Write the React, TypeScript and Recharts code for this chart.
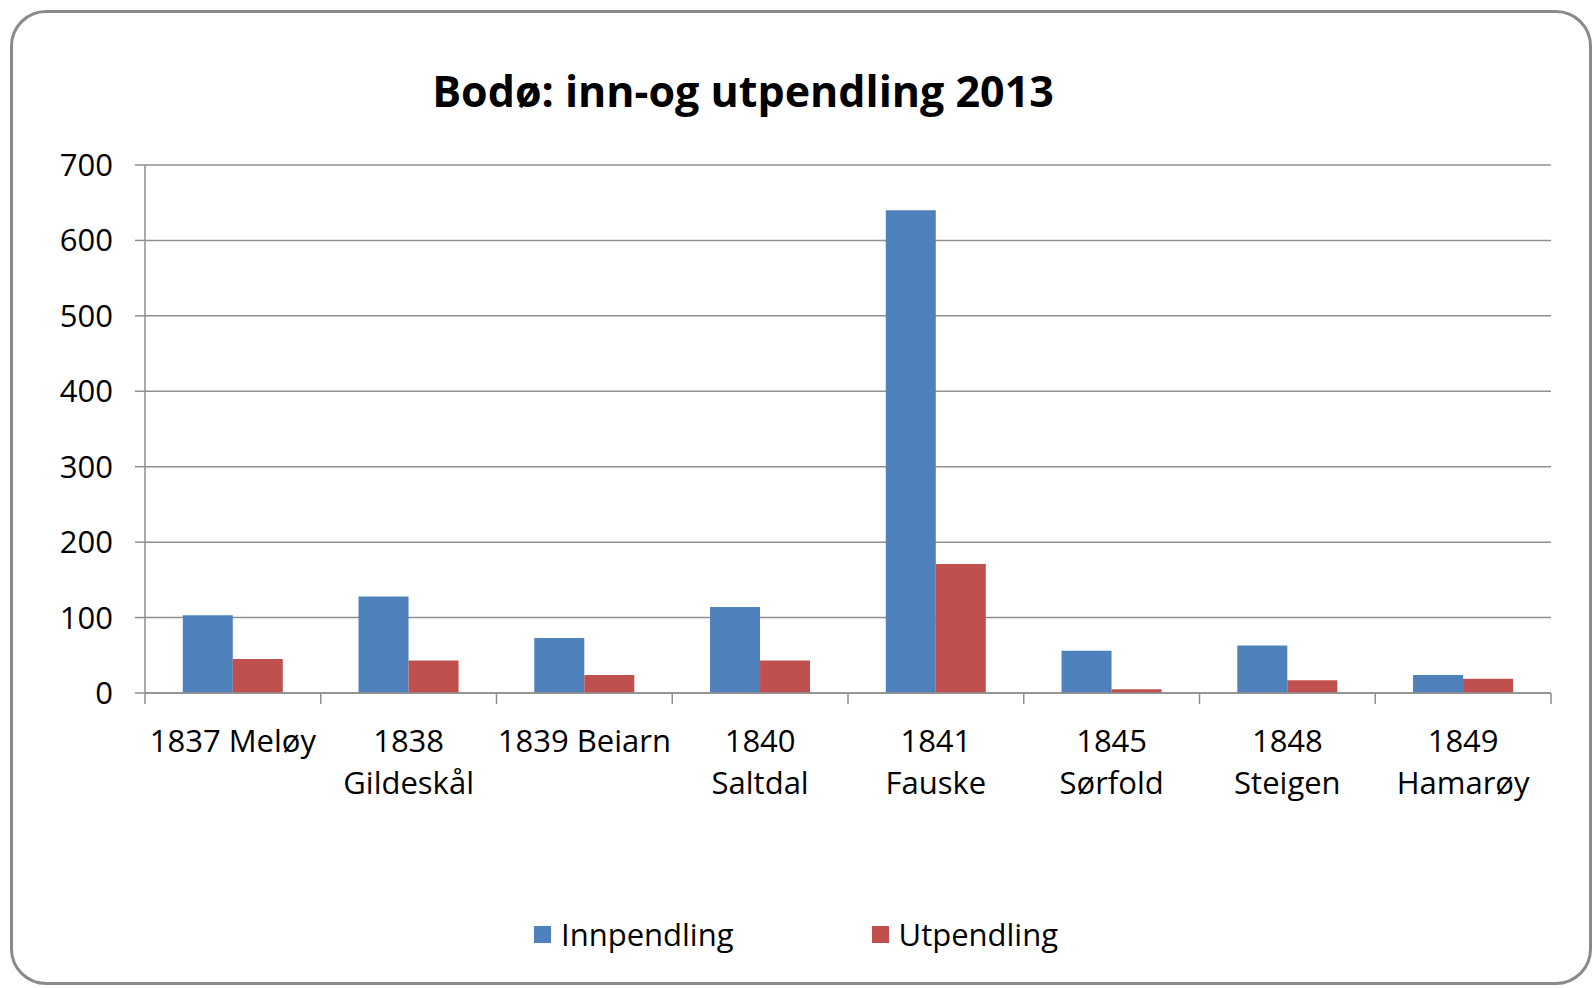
import React from 'react'
import { BarChart, Bar, XAxis, YAxis, CartesianGrid } from 'recharts'

const categories = [
  '1837 Meløy',
  '1838\nGildeskål',
  '1839 Beiarn',
  '1840\nSaltdal',
  '1841\nFauske',
  '1845\nSørfold',
  '1848\nSteigen',
  '1849\nHamarøy',
]
const innpendling = [103, 128, 73, 114, 640, 56, 63, 24]
const utpendling = [45, 43, 24, 43, 171, 5, 17, 19]
const yTicks = [0, 100, 200, 300, 400, 500, 600, 700]
const seriesNames = ['Innpendling', 'Utpendling']
const seriesColors = ['#4F81BD', '#C0504D']

const data = categories.map((name, i) => ({
  name,
  innpendling: innpendling[i],
  utpendling: utpendling[i],
}))

const FONT = '"Open Sans", sans-serif'
const GRID = '#8f8f8f'

const CategoryTick = (props: any) => {
  const { x, y, payload, index, visibleTicksCount } = props
  const half = payload.offset || 0
  const lines = String(payload.value).split('\n')
  return (
    <g>
      <line x1={x - half} x2={x - half} y1={y} y2={y + 11} stroke={GRID} strokeWidth={1.5} />
      {index === visibleTicksCount - 1 && (
        <line x1={x + half} x2={x + half} y1={y} y2={y + 11} stroke={GRID} strokeWidth={1.5} />
      )}
      <text x={x} y={y} textAnchor="middle" fill="#000" fontSize={31} fontFamily={FONT}>
        {lines.map((l, i) => (
          <tspan key={i} x={x} dy={i === 0 ? 59 : 42}>
            {l}
          </tspan>
        ))}
      </text>
    </g>
  )
}

const App = () => {
  return (
    <div style={{ position: 'absolute', left: 0, top: 0, width: 1595, height: 988, background: '#fff' }}>
      <div
        style={{
          position: 'absolute',
          left: 10,
          top: 10,
          width: 1582,
          height: 975,
          border: '3px solid #8a8a8a',
          borderRadius: 36,
          boxSizing: 'border-box',
        }}
      />
      <div
        style={{
          position: 'absolute',
          left: 0,
          width: 1486,
          top: 61,
          textAlign: 'center',
          fontFamily: FONT,
          fontWeight: 700,
          fontSize: 43,
          lineHeight: '60px',
          color: '#000',
        }}
      >
        Bodø: inn-og utpendling 2013
      </div>
      <div style={{ position: 'absolute', left: 0, top: 0 }}>
        <BarChart
          width={1595}
          height={988}
          data={data}
          margin={{ top: 165, right: 44, left: 0, bottom: 0 }}
          barCategoryGap="21.5%"
          barGap={0}
        >
          <CartesianGrid vertical={false} stroke={GRID} strokeWidth={1.5} />
          <XAxis
            dataKey="name"
            height={295}
            interval={0}
            axisLine={{ stroke: GRID, strokeWidth: 1.5 }}
            tickLine={false}
            tickSize={0}
            tickMargin={0}
            tick={<CategoryTick />}
          />
          <YAxis
            width={145}
            domain={[0, 700]}
            ticks={yTicks}
            interval={0}
            axisLine={{ stroke: GRID, strokeWidth: 1.5 }}
            tickLine={{ stroke: GRID, strokeWidth: 1.5 }}
            tickSize={10}
            tickMargin={22}
            tick={{ fill: '#000', fontSize: 31, fontFamily: FONT }}
          />
          <Bar dataKey="innpendling" name={seriesNames[0]} fill={seriesColors[0]} isAnimationActive={false} />
          <Bar dataKey="utpendling" name={seriesNames[1]} fill={seriesColors[1]} isAnimationActive={false} />
        </BarChart>
      </div>
      <div
        style={{
          position: 'absolute',
          left: 534,
          top: 914,
          display: 'flex',
          gap: 138,
          fontFamily: FONT,
          fontSize: 31,
          color: '#000',
          lineHeight: '40px',
        }}
      >
        {seriesNames.map((n, i) => (
          <div key={n} style={{ display: 'flex', alignItems: 'center' }}>
            <span style={{ width: 17, height: 17, background: seriesColors[i], marginRight: 10, display: 'inline-block' }} />
            <span>{n}</span>
          </div>
        ))}
      </div>
    </div>
  )
}

export default App
